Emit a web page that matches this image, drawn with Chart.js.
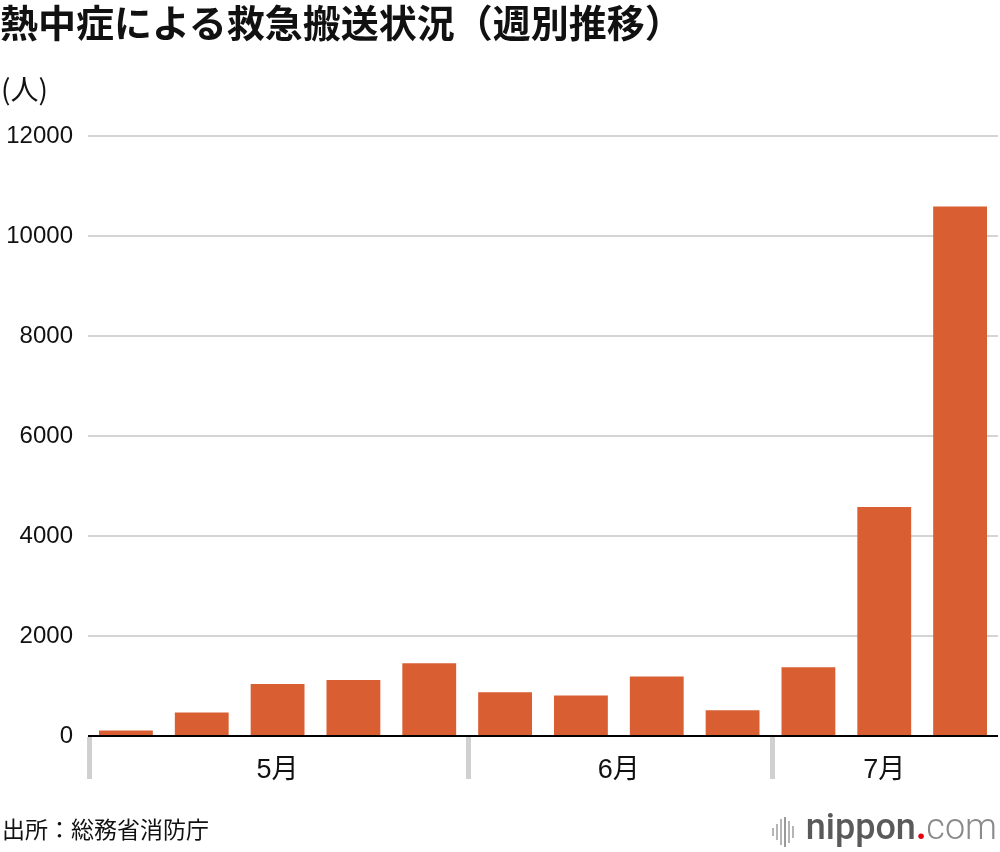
<!DOCTYPE html>
<html lang="ja">
<head>
<meta charset="utf-8">
<script src="https://cdn.jsdelivr.net/npm/chart.js@4.4.0/dist/chart.umd.min.js"></script>
<style>
  html, body { margin: 0; padding: 0; background: #fff; }
  #wrap { position: relative; width: 1000px; height: 852px; overflow: hidden; }
  #chart { position: absolute; left: 0; top: 0; }
  #title { position: absolute; left: 0; top: 0px; font-family: "Noto Sans CJK JP", sans-serif; font-weight: 700; font-size: 38px; line-height: 1.1; color: #111; white-space: nowrap; letter-spacing: 0px; }
  #unit { position: absolute; left: 1px; top: 72px; font-family: "Noto Sans CJK JP", sans-serif; font-size: 28px; line-height: 1.2; color: #111; }
  #source { position: absolute; left: 2px; top: 815px; font-family: "Noto Sans CJK JP", sans-serif; font-size: 23px; line-height: 1.2; color: #111; }
  #logo { position: absolute; right: 3px; top: 806px; font-family: Roboto, "Open Sans", sans-serif; font-size: 36px; line-height: 1.2; white-space: nowrap; }
  #logo .n { color: #5a5a5a; font-weight: 500; }
  #logo .d { color: #e60012; font-weight: 700; }
  #logo .c { color: #8a8a8a; font-weight: 300; }
  #wave { position: absolute; left: 772px; top: 817px; height: 30px; width: 26px; }
  #wave i { position: absolute; width: 2px; background: #b5b5b5; }
</style>
</head>
<body>
<div id="wrap">
  <canvas id="chart" width="1000" height="852"></canvas>
  <div id="title">熱中症による救急搬送状況（週別推移）</div>
  <div id="unit">(人)</div>
  <div id="source">出所：総務省消防庁</div>
  <div id="wave">
    <i style="left:0px;top:11px;height:8px"></i>
    <i style="left:4px;top:7px;height:16px"></i>
    <i style="left:8px;top:2px;height:26px"></i>
    <i style="left:12px;top:0px;height:30px;background:#9a9a9a"></i>
    <i style="left:16px;top:4px;height:22px"></i>
    <i style="left:20px;top:9px;height:12px"></i>
  </div>
  <div id="logo"><span class="n">nippon</span><span class="d">.</span><span class="c">com</span></div>
</div>
<script>
// ---- data ----
const weekLabels = ['5月第1週','5月第2週','5月第3週','5月第4週','5月第5週',
                    '6月第1週','6月第2週','6月第3週','6月第4週',
                    '7月第1週','7月第2週','7月第3週'];
const transported = [110, 470, 1040, 1120, 1455, 875, 810, 1190, 515, 1375, 4580, 10590];
const monthLabels = ['5月', '6月', '7月'];
const monthStartIndex = [0, 5, 9];
const yTicks = [0, 2000, 4000, 6000, 8000, 10000, 12000];

const barColor = '#d95f33';

const monthAxisPlugin = {
  id: 'monthAxis',
  afterDraw(chart) {
    const ctx = chart.ctx;
    const x = chart.scales.x;
    const area = chart.chartArea;
    const n = weekLabels.length;
    const half = (x.getPixelForValue(1) - x.getPixelForValue(0)) / 2;
    const bounds = monthStartIndex.map(i => x.getPixelForValue(i) - half);
    bounds.push(x.getPixelForValue(n - 1) + half);
    ctx.save();
    ctx.fillStyle = '#d0d0d0';
    for (let k = 0; k < monthStartIndex.length; k++) {
      ctx.fillRect(Math.round(bounds[k]) - 1, area.bottom + 1, 5, 42);
    }
    ctx.fillStyle = '#111';
    ctx.font = '27px "Liberation Sans", "Noto Sans CJK JP", sans-serif';
    ctx.textAlign = 'center';
    ctx.textBaseline = 'middle';
    for (let k = 0; k < monthLabels.length; k++) {
      const cx = (bounds[k] + bounds[k + 1]) / 2;
      ctx.fillText(monthLabels[k], cx, area.bottom + 35);
    }
    ctx.restore();
  }
};

new Chart(document.getElementById('chart'), {
  type: 'bar',
  data: {
    labels: weekLabels,
    datasets: [{
      data: transported,
      backgroundColor: barColor,
      borderWidth: 0,
      categoryPercentage: 1.0,
      barPercentage: 0.71
    }]
  },
  options: {
    responsive: false,
    animation: false,
    devicePixelRatio: 1,
    layout: { padding: { top: 136, bottom: 116, left: 0, right: 2 } },
    plugins: { legend: { display: false }, tooltip: { enabled: false } },
    scales: {
      x: { display: false },
      y: {
        min: 0, max: 12000,
        afterFit(scale) { scale.width = 88; },
        afterBuildTicks(scale) { scale.ticks = yTicks.map(v => ({ value: v })); },
        border: { display: false },
        grid: {
          drawTicks: false,
          color: ctx => ctx.tick && ctx.tick.value === 0 ? '#000' : '#d4d4d4',
          lineWidth: 2
        },
        ticks: {
          padding: 15,
          color: '#111',
          callback: v => String(v),
          font: { family: '"Liberation Sans", Arial, sans-serif', size: 24 }
        }
      }
    }
  },
  plugins: [monthAxisPlugin]
});
</script>
</body>
</html>
